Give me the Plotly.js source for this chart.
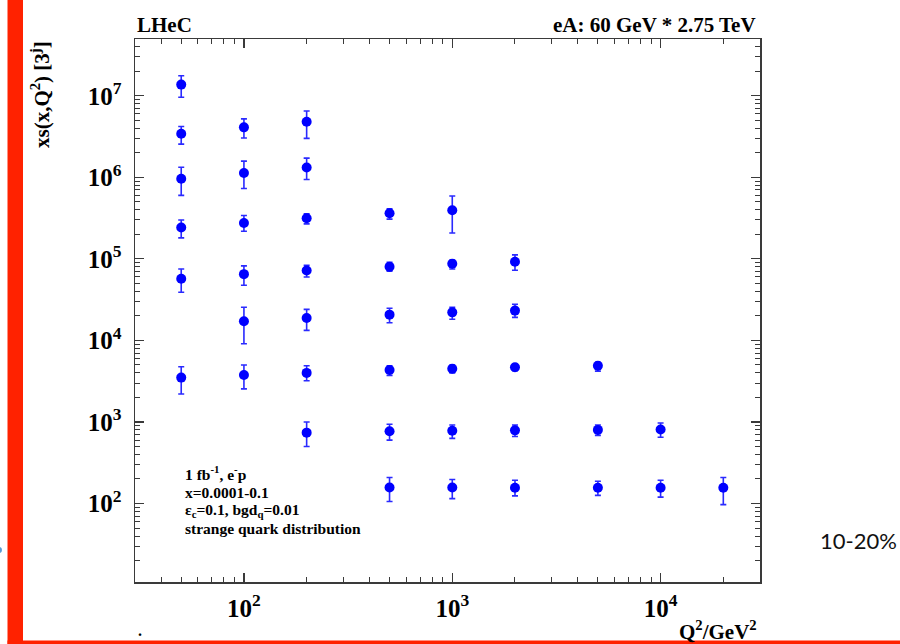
<!DOCTYPE html>
<html>
<head>
<meta charset="utf-8">
<script src="https://cdn.plot.ly/plotly-3.0.1.min.js"></script>
<style>
  html, body { margin: 0; padding: 0; background: #ffffff; }
  #chart { width: 900px; height: 644px; }
</style>
</head>
<body>
<div id="chart"></div>
<script>
// ---- data (Q^2 bin, central value, upper edge, lower edge of error bar) ----
const q2Values = [
  50, 50, 50, 50, 50, 50,
  100, 100, 100, 100, 100, 100,
  200, 200, 200, 200, 200, 200, 200,
  500, 500, 500, 500, 500, 500,
  1000, 1000, 1000, 1000, 1000, 1000,
  2000, 2000, 2000, 2000, 2000,
  5000, 5000, 5000,
  10000, 10000,
  20000
];
const xsValues = [
  1.37e7, 3.42e6, 9.6e5, 2.42e5, 5.7e4, 3.5e3,
  4.1e6, 1.13e6, 2.76e5, 6.5e4, 1.72e4, 3.76e3,
  4.8e6, 1.32e6, 3.15e5, 7.2e4, 1.88e4, 4.0e3, 740,
  3.63e5, 8.0e4, 2.07e4, 4.33e3, 770, 157,
  3.95e5, 8.7e4, 2.21e4, 4.5e3, 780, 157,
  9.2e4, 2.32e4, 4.7e3, 790, 156,
  4.9e3, 800, 156,
  810, 156,
  156
];
const xsUpper = [
  1.76e7, 4.2e6, 1.33e6, 3.0e5, 7.5e4, 4.75e3,
  5.2e6, 1.58e6, 3.4e5, 8.2e4, 2.55e4, 5.0e3,
  6.5e6, 1.72e6, 3.56e5, 8.35e4, 2.4e4, 4.9e3, 1000,
  4.1e5, 9.1e4, 2.48e4, 4.9e3, 940, 209,
  5.9e5, 9.7e4, 2.55e4, 5.0e3, 920, 197,
  1.12e5, 2.78e4, 5.1e3, 920, 193,
  5.4e3, 920, 188,
  970, 193,
  209
];
const xsLower = [
  9.6e6, 2.55e6, 6.0e5, 1.81e5, 3.9e4, 2.2e3,
  3.03e6, 7.3e5, 2.18e5, 4.75e4, 9.1e3, 2.55e3,
  3.0e6, 9.4e5, 2.69e5, 6.0e4, 1.33e4, 3.2e3, 500,
  3.07e5, 7.05e4, 1.65e4, 3.73e3, 600, 106,
  2.08e5, 7.5e4, 1.82e4, 4.0e3, 630, 115,
  7.25e4, 1.92e4, 4.25e3, 665, 124,
  4.2e3, 685, 126,
  650, 120,
  97
];

// ---- text ----
const titleLeft = 'LHeC';
const titleRight = 'eA: 60 GeV * 2.75 TeV';
const yTitle = 'xs(x,Q<sup>2</sup>) [3<sup>j</sup>]';
const xTitle = 'Q<sup>2</sup>/GeV<sup>2</sup>';
const infoLines = [
  '1 fb<sup>-1</sup>, e<sup>-</sup>p',
  'x=0.0001-0.1',
  '\u03B5<sub>c</sub>=0.1, bgd<sub>q</sub>=0.01',
  'strange quark distribution'
];
const sideNote = '10-20%';

// ---- geometry helpers (pixel -> paper) ----
const L = 135, R = 760, T = 39, B = 582;
const px = v => (v - L) / (R - L);
const py = v => (B - v) / (B - T);

const errPlus = xsUpper.map((u, i) => u - xsValues[i]);
const errMinus = xsLower.map((l, i) => xsValues[i] - l);

const trace = {
  type: 'scatter',
  mode: 'markers',
  x: q2Values,
  y: xsValues,
  marker: { color: '#0000ff', size: 10, line: { width: 0 } },
  error_y: {
    type: 'data',
    symmetric: false,
    array: errPlus,
    arrayminus: errMinus,
    color: '#2a2aff',
    thickness: 1.6,
    width: 3
  },
  hoverinfo: 'skip'
};

const serif = 'Liberation Serif, Times New Roman, serif';
const axisCommon = {
  type: 'log',
  showgrid: false,
  zeroline: false,
  showline: true,
  linecolor: '#3a3a3a',
  linewidth: 1.5,
  mirror: 'ticks',
  ticks: 'inside',
  ticklen: 9,
  tickwidth: 1.2,
  tickcolor: '#3a3a3a',
  dtick: 1,
  exponentformat: 'power',
  tickfont: { family: serif, size: 20, color: '#000000', weight: 'bold' },
  minor: { ticks: 'inside', ticklen: 5, tickwidth: 1, tickcolor: '#3a3a3a', dtick: 'D1', showgrid: false }
};

const ann = [];
ann.push({ xref: 'paper', yref: 'paper', x: 0, y: py(25), xanchor: 'left', yanchor: 'middle',
  text: titleLeft, showarrow: false, font: { family: serif, size: 21, color: '#000', weight: 'bold' } });
ann.push({ xref: 'paper', yref: 'paper', x: px(758), y: py(25), xanchor: 'right', yanchor: 'middle',
  text: titleRight, showarrow: false, font: { family: serif, size: 21, color: '#000', weight: 'bold' } });
ann.push({ xref: 'paper', yref: 'paper', x: px(41), y: py(95), xanchor: 'center', yanchor: 'middle',
  text: yTitle, textangle: -90, showarrow: false, font: { family: serif, size: 21, color: '#000', weight: 'bold' } });
ann.push({ xref: 'paper', yref: 'paper', x: px(759), y: py(630), xanchor: 'right', yanchor: 'middle',
  text: xTitle, showarrow: false, font: { family: serif, size: 21, color: '#000', weight: 'bold' } });
const infoY = [473, 492, 510, 528];
infoLines.forEach((t, i) => {
  ann.push({ xref: 'paper', yref: 'paper', x: px(183), y: py(infoY[i]), xanchor: 'left', yanchor: 'middle',
    text: t, showarrow: false, font: { family: serif, size: 15.5, color: '#000', weight: 'bold' } });
});
ann.push({ xref: 'paper', yref: 'paper', x: px(858), y: py(540), xanchor: 'center', yanchor: 'middle',
  text: sideNote, showarrow: false, font: { family: 'Lato, Open Sans, sans-serif', size: 22, color: '#111111' } });
ann.push({ xref: 'paper', yref: 'paper', x: px(140), y: py(630), xanchor: 'center', yanchor: 'middle',
  text: '.', showarrow: false, font: { family: serif, size: 16, color: '#000', weight: 'bold' } });

const shapes = [
  { type: 'rect', xref: 'paper', yref: 'paper', x0: px(7.5), x1: px(23), y0: py(644), y1: py(0),
    fillcolor: '#ff2200', line: { width: 0 }, layer: 'above' },
  { type: 'rect', xref: 'paper', yref: 'paper', x0: px(7.5), x1: px(900), y0: py(644), y1: py(640.5),
    fillcolor: '#ff2200', line: { width: 0 }, layer: 'above' },
  { type: 'circle', xref: 'paper', yref: 'paper', x0: px(-3), x1: px(2), y0: py(553), y1: py(547),
    fillcolor: '#5b9bd5', line: { width: 0 }, layer: 'above' }
];

const layout = {
  width: 900,
  height: 644,
  margin: { l: L, r: 900 - R, t: T, b: 644 - B, pad: 0 },
  paper_bgcolor: '#ffffff',
  plot_bgcolor: '#ffffff',
  showlegend: false,
  xaxis: Object.assign({}, axisCommon, { range: [Math.log10(30), Math.log10(30000)], ticklabelstandoff: 4 }),
  yaxis: Object.assign({}, axisCommon, { range: [1.038, 7.696], ticklabelstandoff: 8 }),
  annotations: ann,
  shapes: shapes
};

Plotly.newPlot('chart', [trace], layout, { staticPlot: true, displayModeBar: false });
</script>
</body>
</html>
